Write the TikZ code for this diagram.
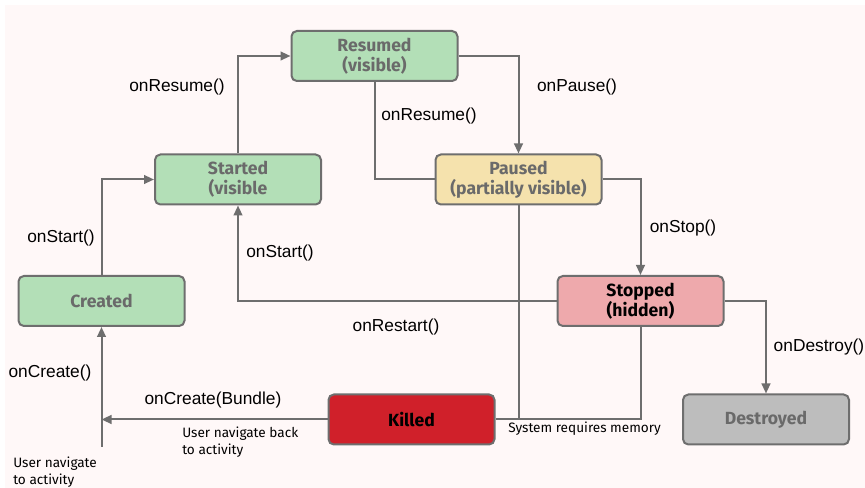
\documentclass[tikz,border=0pt]{standalone}
\usepackage{fontspec}
\setmainfont{Liberation Sans}
\newfontfamily\boxfont{Fira Sans}
\usetikzlibrary{arrows.meta}

\definecolor{bgpink}{HTML}{FFF8F8}
\definecolor{wire}{HTML}{6E6E6E}
\definecolor{greenbox}{HTML}{B3DFB7}
\definecolor{yellowbox}{HTML}{F5E2AD}
\definecolor{pinkbox}{HTML}{EEA9AC}
\definecolor{redbox}{HTML}{D0202A}
\definecolor{graybox}{HTML}{BDBDBD}
\definecolor{softtext}{HTML}{6A6A6A}

\tikzset{
    state/.style={draw=wire, line width=1.5pt, rounded corners=4pt,
        minimum width=124.5pt, minimum height=37.5pt, inner sep=0pt,
        align=center, text=softtext,
        font=\boxfont\bfseries\fontsize{13.2}{15}\selectfont},
    call/.style={font=\fontsize{13}{15}\selectfont, inner sep=0pt},
    note/.style={font=\boxfont\fontsize{10.2}{12.8}\selectfont, inner sep=0pt, align=left},
    wireline/.style={draw=wire, line width=1.5pt},
    flow/.style={wireline, -{Triangle[length=7.5pt,width=6.5pt]}},
}

\begin{document}
\begin{tikzpicture}[x=0.75pt, y=-0.75pt]
    \useasboundingbox (0,0) rectangle (865,488);
    \fill[bgpink] (5,5) rectangle (865,488);

    \node[state, fill=greenbox] (resumed) at (374.5, 56) {Resumed\\(visible)};
    \node[state, fill=greenbox] (started) at (238, 179.5) {Started\\(visible};
    \node[state, fill=yellowbox] (paused) at (518.5, 179.5) {Paused\\(partially visible)};
    \node[state, fill=greenbox] (created) at (101.5, 301) {Created};
    \node[state, fill=pinkbox, text=black] (stopped) at (640.5, 301) {Stopped\\(hidden)};
    \node[state, fill=redbox, text=black] (killed) at (411.5, 419.5) {Killed};
    \node[state, fill=graybox] (destroyed) at (766, 419.5) {Destroyed};

    \coordinate (entry) at (101.5, 447);

    \draw[flow] (created.north) |- (started.west);
    \draw[flow] (started.north) |- (resumed.west);
    \draw[flow] (resumed.east) -| (paused.north);
    \draw[wireline] (paused.west) -| (resumed.south);
    \draw[flow] (paused.east) -| (stopped.north);
    \draw[flow] (stopped.west) -| (started.south);
    \draw[flow] (stopped.east) -| (destroyed.north);
    \draw[wireline] (paused.south) |- (killed.east);
    \draw[wireline] (stopped.south) |- (killed.east);
    \draw[flow] (killed.west) -- (killed.west -| entry);
    \draw[flow] (entry) -- (created.south);

    \node[call] (resume1) at (177, 87) {onResume()};
    \node[call] (pause) at (577, 87) {onPause()};
    \node[call] (resume2) at (429, 116) {onResume()};
    \node[call] (start1) at (61, 238) {onStart()};
    \node[call] (start2) at (280, 253) {onStart()};
    \node[call] (stop) at (683, 228) {onStop()};
    \node[call] (restart) at (396, 327) {onRestart()};
    \node[call] (destroy) at (819, 347) {onDestroy()};
    \node[call] (create1) at (50, 373) {onCreate()};
    \node[call] (create2) at (213, 400) {onCreate(Bundle)};

    \node[note, anchor=north west] (back) at (182, 427) {User navigate back\\to activity};
    \node[note, anchor=west] (memory) at (508, 429) {System requires memory};
    \node[note, anchor=north west] (first) at (13, 457) {User navigate\\to activity};
\end{tikzpicture}
\end{document}
